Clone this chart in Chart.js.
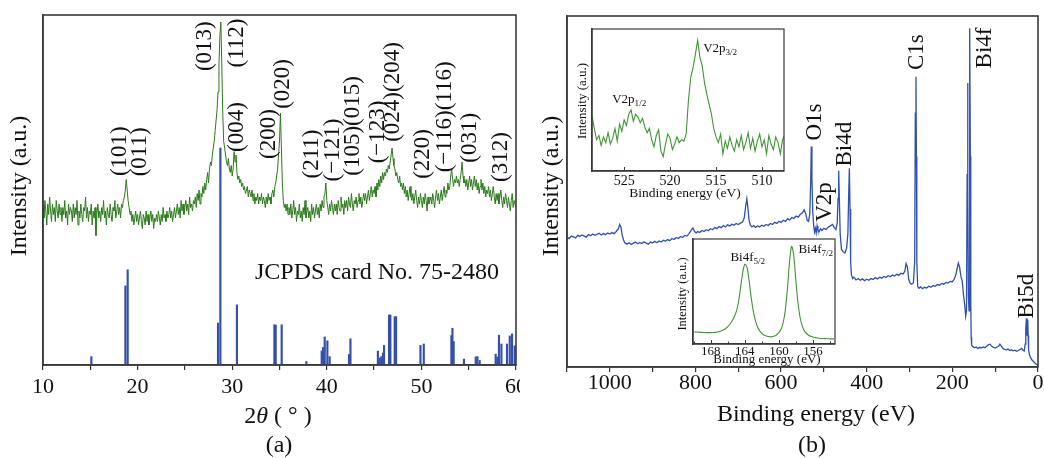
<!DOCTYPE html>
<html>
<head>
<meta charset="utf-8">
<script src="https://cdn.jsdelivr.net/npm/chart.js@4.4.0/dist/chart.umd.min.js"></script>
<style>
html, body { margin: 0; padding: 0; background: #fff; }
#wrap { position: relative; width: 1044px; height: 458px; overflow: hidden; }
canvas { position: absolute; }
</style>
</head>
<body>
<div id="wrap">
  <canvas id="xrd" width="520" height="458" style="left:0;top:0"></canvas>
  <canvas id="xps" width="524" height="458" style="left:520px;top:0"></canvas>
  <canvas id="v2p" width="220" height="175" style="left:570px;top:25px"></canvas>
  <canvas id="bi4f" width="166" height="133" style="left:675px;top:235px"></canvas>
</div>
<script>
// ---- (a) XRD pattern, 2theta from 10 to 60 in 0.1 steps
const xrdStart = 10, xrdStep = 0.1;
const xrdIntensity = [
  45,42,47,44,40,46,43,48,44,41,
  46,43,45,41,47,44,42,46,43,45,
  41,45,43,47,42,44,40,46,43,45,
  44,41,46,42,45,43,47,40,44,42,
  46,43,41,45,44,48,42,45,41,44,
  43,46,40,44,42,45,37,43,46,42,
  44,41,45,43,47,42,44,40,45,43,
  42,46,43,41,45,44,47,42,44,46,
  43,45,42,46,45,47,48,50,53,50,
  47,45,43,44,41,43,40,42,44,41,
  43,40,42,44,41,39,43,42,40,44,
  41,43,40,42,44,41,43,39,42,41,
  43,41,44,42,40,43,41,45,42,43,
  41,44,42,43,45,42,44,41,43,45,
  42,44,46,43,45,42,47,44,46,43,
  45,47,44,46,43,48,45,46,44,47,
  46,48,45,49,47,50,46,49,48,51,
  49,52,50,53,55,52,56,58,57,60,
  62,64,67,70,73,78,86,94,98,86,
  72,64,62,60,58,57,59,56,55,57,
  54,56,61,58,60,55,53,54,52,53,
  51,52,50,51,49,50,51,48,50,49,
  48,50,47,49,46,48,47,49,46,48,
  47,49,46,48,47,45,48,46,49,47,
  48,46,49,50,48,51,52,54,56,60,
  64,72,62,52,47,45,46,44,46,43,
  45,43,46,42,44,47,43,45,41,44,
  43,46,42,44,41,45,43,47,42,44,
  45,42,44,41,46,43,45,42,44,46,
  43,45,42,46,44,47,45,48,49,52,
  47,45,43,46,44,47,45,43,46,44,
  46,43,47,45,44,48,45,46,43,47,
  45,47,44,48,46,45,49,46,44,47,
  46,48,45,47,49,46,48,45,47,49,
  47,49,46,48,50,47,49,51,48,50,
  49,51,48,52,50,53,51,54,52,55,
  53,55,54,56,55,57,56,58,60,62,
  59,57,56,54,55,53,52,54,51,52,
  50,52,49,51,48,50,47,49,51,48,
  47,49,46,48,50,47,45,48,46,49,
  47,45,48,46,49,47,44,48,46,47,
  48,46,49,47,45,48,50,47,49,46,
  48,50,47,49,51,48,50,49,52,50,
  51,54,56,53,51,53,52,54,52,53,
  51,53,55,58,54,52,53,51,53,50,
  52,54,51,53,50,52,54,51,53,50,
  52,49,51,53,50,52,49,51,48,50,
  49,51,48,50,47,49,51,48,46,49,
  47,49,46,48,50,47,45,48,46,49,
  47,45,48,46,44,47,49,45,47,46,
  45
];

// JCPDS 75-2480 reference lines
const jcpdsAngle = [15.11, 18.71, 18.95, 28.5, 28.75, 30.5, 34.46, 34.6, 35.23, 37.84,
  39.46, 39.6, 39.78, 40.06, 40.3, 42.35, 42.5, 45.4, 45.6, 45.77, 45.94, 46.05,
  46.58, 46.72, 47.18, 47.32, 49.9, 50.25, 53.17, 53.28, 53.41, 54.5, 55.74, 55.92,
  56.16, 57.85, 58.03, 58.2, 58.46, 59.05, 59.34, 59.58, 59.86];
const jcpdsHeight = [2.4, 22.6, 27.2, 12, 62, 17.2, 11.5, 11.4, 11.5, 1,
  4, 5, 8, 6.9, 2.4, 3, 7.5, 4, 2, 2.4, 3.4, 5.6,
  14.3, 14.3, 13.8, 13.8, 5.6, 6, 8.4, 10.5, 6.7, 1.7, 2.3, 2.4,
  1.3, 3.1, 2.3, 8.5, 6, 6, 8.3, 8.9, 5.5];

const xrdPeakLabels = ["(101)", "(011)", "(013)", "(112)", "(004)", "(200)", "(020)", "(211)",
  "(\u2212121)", "(105)(015)", "(\u2212123)", "(024)(204)", "(220)", "(\u2212116)(116)", "(031)", "(312)"];

// ---- (b) XPS survey
const xpsEnergy = [
  1100,1095,1090,1085,1080,1075,1070,1065,1060,1055,1050,1045,1040,1035,1030,1025,1020,1015,1010,1005,1000,995,990,
  985,980,977,974,971,968,965,960,
  955,950,945,940,935,930,925,920,915,910,905,900,895,890,885,880,875,870,865,860,855,850,845,840,835,830,825,820,815,
  810,806,802,798,795,790,785,780,775,770,765,760,755,750,745,740,735,730,725,720,715,710,705,700,695,690,686,683,680,678,675,672,668,664,660,
  655,650,645,640,635,630,625,620,615,610,605,600,595,590,585,580,575,570,565,560,555,
  550,546,542,539,536,533,531,529.5,528,526,524,522,520,518,516,514,511,508,505,500,
  495,490,485,480,476,472,469,467,465.5,464,462,459,455,451,447,444,442,440.5,439,437.5,436,433,
  430,425,420,415,410,405,400,395,390,385,380,375,370,365,360,355,350,345,340,335,330,325,320,315,
  311,308,305,302,299,295,291,288,286.5,285,284,283,281,278,274,270,
  265,260,255,250,245,240,235,230,225,220,215,210,205,200,
  196,192,189,186,183,180,177,174,171,169,167,165.5,164.5,163.5,162.5,161,160,159,158,157,156,155,152,
  148,144,140,136,132,128,124,120,116,112,108,104,100,96,92,89,86,82,78,74,70,66,62,58,54,50,46,42,38,35,32,
  30,28.5,27,26,25,24,23,22,20,17,14,10,6,3,0
];
const xpsCounts = [
  37.0,36.6,37.3,37.1,36.8,37.5,37.2,37.6,37.3,37.0,37.7,37.4,37.9,37.5,37.8,38.1,37.6,38.0,37.7,38.2,37.9,38.3,38.0,
  38.6,39.4,40.6,39.8,37.5,36.2,35.4,35.0,
  35.4,34.9,35.3,35.6,35.1,35.5,35.2,35.7,35.3,35.0,35.6,35.3,35.8,35.4,35.9,35.6,36.1,35.8,36.3,36.0,36.6,36.3,36.9,36.6,37.2,36.9,37.5,37.3,38.0,
  39.0,39.6,38.6,38.2,38.6,38.3,38.9,38.6,39.1,38.8,39.4,39.1,39.7,39.4,40.0,39.7,40.3,39.9,40.5,40.2,40.7,40.4,40.9,40.6,41.0,41.3,42.5,45.5,47.9,46.0,42.0,40.5,39.9,40.3,39.8,
  40.2,39.9,40.4,40.1,40.6,40.3,40.9,40.6,41.2,40.9,41.5,41.2,41.8,41.5,42.2,41.9,42.6,42.3,43.0,42.7,43.5,
  43.9,44.8,43.5,41.8,41.5,43.5,52,62.8,54,44,40.5,38.5,39.5,38.2,40.2,39.0,38.6,39.4,38.9,39.5,
  39.2,39.8,40.2,40.6,39.8,39.2,41,48,55.9,48,38,33.5,32.8,32.5,33.8,38,50,56.6,45,30,26.5,25.2,
  25.6,24.8,25.2,24.7,25.1,24.6,25.0,24.7,25.2,24.9,25.4,25.1,25.6,25.3,25.8,25.5,26.0,25.7,26.2,25.9,26.4,26.1,26.7,26.5,
  27.3,29.5,28.5,25.0,24.0,23.6,24.0,30,72.3,82.7,60,30,23.0,22.4,22.8,22.3,
  22.7,22.5,23.0,22.7,23.2,23.0,23.5,23.3,23.8,23.6,24.1,23.9,24.4,24.3,
  25.0,26.2,28.0,29.6,28.4,25.8,24.5,20.5,17.5,14.5,16,55,80.9,50,20,16,45,96.5,60,18,8.5,6.2,5.8,
  5.5,5.7,5.3,5.6,5.4,5.7,5.5,5.9,6.3,6.5,5.9,5.6,5.4,5.7,5.9,6.5,6.0,5.3,5.0,4.9,5.1,4.7,4.9,4.6,4.8,4.5,4.7,5.0,5.3,4.8,4.6,
  6.5,11,13.9,9.5,9,13.5,9,5,3.5,2.6,2.0,1.5,1.0,0.7,0.5
];

// V2p high-resolution spectrum, 528.5 down to 507.5 eV in 0.25 eV steps
const v2pStart = 528.5, v2pStep = -0.25;
const v2pCounts = [
  39,
  30,22,25,18, 24,20,27,19, 23,30,21,33, 28,36,32,40, 43,35,40,38,
  34,37,31,27, 30,22,17,25, 29,14,10,19, 26,23,15,19, 24,20,22,21,
  26,50,66,73, 82,92,80,74, 62,54,47,40, 30,24,20,26, 12,21,16,24,
  18,14,22,17, 25,15,20,27, 16,23,14,21, 26,17,22,12, 25,19,15,24,
  20,12,22,26
];

// Bi4f high-resolution spectrum, 170 down to 153.5 eV in 0.25 eV steps
const bi4fStart = 170, bi4fStep = -0.25;
const bi4fCounts = [
  11.5,11.4,11.3,11.1,11.0,10.9,10.8,10.8,10.8,10.9,11.1,11.4,11.9,12.6,13.5,14.8,
  16.5,18.8,22,26,31,40,54,68,76,73,60,44,31,22,16,12.5,
  10,8.6,7.7,7.1,6.8,7.0,7.6,8.8,10.8,14,20,32,52,78,93,84,
  60,39,25,17,12.5,10,8.4,7.3,6.6,6.1,5.8,5.5,5.3,5.2,5.1,5.0,
  4.9,4.9,4.8
];

const SERIF = "'Liberation Serif', 'Times New Roman', serif";

function drawRich(ctx, parts, size, align) {
  let w = 0;
  const segs = parts.map(p => {
    const sz = p.sub ? size * 0.7 : size;
    ctx.font = (p.it ? "italic " : "") + sz + "px " + SERIF;
    const m = ctx.measureText(p.t).width;
    w += m;
    return { p, sz, m };
  });
  let x = align === "left" ? 0 : -w / 2;
  segs.forEach(s => {
    ctx.font = (s.p.it ? "italic " : "") + s.sz + "px " + SERIF;
    ctx.fillText(s.p.t, x, s.p.sub ? size * 0.3 : 0);
    x += s.m;
  });
}

// frame, inward ticks and text notes
function decor(cfg) {
  return {
    id: "decor",
    beforeDraw(chart) {
      if (!cfg.fill) return;
      const a = chart.chartArea, ctx = chart.ctx;
      ctx.save();
      ctx.fillStyle = cfg.fill;
      ctx.fillRect(a.left, a.top, a.right - a.left, a.bottom - a.top);
      ctx.restore();
    },
    afterDraw(chart) {
      const ctx = chart.ctx, a = chart.chartArea;
      const xs = chart.scales.x, ys = chart.scales.y;
      ctx.save();
      ctx.strokeStyle = "#3a3a3a";
      ctx.lineWidth = cfg.frame;
      ctx.strokeRect(a.left, a.top, a.right - a.left, a.bottom - a.top);
      if (cfg.innerTicks) {
        ctx.lineWidth = 1;
        xs.ticks.forEach(t => {
          const px = Math.round(xs.getPixelForValue(t.value)) + 0.5;
          ctx.beginPath();
          ctx.moveTo(px, a.bottom);
          ctx.lineTo(px, a.bottom - (t.label ? 4 : 2.5));
          ctx.stroke();
        });
      }
      ctx.fillStyle = "#111";
      ctx.textBaseline = "middle";
      cfg.notes.forEach(n => {
        const px = n.x !== undefined ? xs.getPixelForValue(n.x) : n.px;
        const py = n.y !== undefined ? ys.getPixelForValue(n.y) : n.py;
        ctx.save();
        ctx.translate(px, py);
        if (n.rot) ctx.rotate(-Math.PI / 2);
        drawRich(ctx, n.parts || [{ t: n.text }], n.size, n.align);
        ctx.restore();
      });
      ctx.restore();
    }
  };
}

function xScale(min, max, step, every, size, height, pad, reverse, ticksOut) {
  return {
    type: "linear", min, max, reverse, offset: false,
    grid: { display: true, offset: false, drawOnChartArea: false, drawTicks: ticksOut,
      tickLength: 5, color: "#333", lineWidth: 1.2 },
    border: { display: true, color: "#3a3a3a", width: 1.5 },
    ticks: { stepSize: step, includeBounds: false, autoSkip: false, maxRotation: 0, padding: pad,
      color: "#111", font: { family: SERIF, size, lineHeight: 1 },
      callback: v => (Math.abs(v % every) < 1e-6 ? String(v) : "") },
    afterFit: s => { s.height = height; s.paddingLeft = 0; s.paddingRight = 0; }
  };
}

function yScale(width) {
  return {
    type: "linear", min: 0, max: 100,
    grid: { display: false },
    border: { display: true, color: "#3a3a3a", width: 1.5 },
    ticks: { display: false },
    afterFit: s => { s.width = width; s.paddingTop = 0; s.paddingBottom = 0; }
  };
}

const base = {
  responsive: false, animation: false, devicePixelRatio: 1, events: [],
  plugins: { legend: { display: false }, tooltip: { enabled: false } }
};

// ---- panel (a)
const xrdPoints = xrdIntensity.map((v, i) => ({ x: xrdStart + i * xrdStep, y: v }));
const jcpdsPoints = jcpdsAngle.map((a, i) => ({ x: a, y: jcpdsHeight[i] }));
const xrdLabelPos = [[18.11, 61.1], [20.23, 60.9], [27.09, 91.1], [30.47, 92], [30.47, 68], [33.86, 66],
  [35.34, 80.3], [38.4, 60.3], [40.62, 61.4], [42.74, 68.3], [45.38, 66.6], [46.97, 78], [50.14, 60.3],
  [52.46, 70.9], [55.1, 64.9], [58.38, 59.4]];

new Chart(document.getElementById("xrd"), {
  type: "line",
  data: {
    datasets: [
      { type: "bar", data: jcpdsPoints, backgroundColor: "#3450aa", barThickness: 1.5, order: 0 },
      { type: "line", data: xrdPoints, borderColor: "#2c7a1c", borderWidth: 1, pointRadius: 0, tension: 0, order: 1 }
    ]
  },
  options: {
    ...base,
    layout: { padding: { left: 0, right: 4, top: 15, bottom: 0 } },
    scales: { x: xScale(10, 60, 5, 10, 22, 93, 6, false, true), y: yScale(43) }
  },
  plugins: [decor({
    frame: 1.6,
    notes: [
      ...xrdPeakLabels.map((t, i) => ({ text: t, x: xrdLabelPos[i][0], y: xrdLabelPos[i][1], rot: true, size: 23 })),
      { text: "JCPDS card No. 75-2480", px: 377, py: 273, size: 24 },
      { text: "Intensity (a.u.)", px: 20, py: 186, rot: true, size: 24 },
      { parts: [{ t: "2" }, { t: "\u03b8", it: true }, { t: " ( \u00b0 )" }], px: 278, py: 417, size: 24 },
      { text: "(a)", px: 279, py: 446, size: 24 }
    ]
  })]
});

// ---- panel (b)
const xpsPoints = xpsEnergy.map((e, i) => ({ x: e, y: xpsCounts[i] }));
const xpsLabels = ["O1s", "V2p", "Bi4d", "C1s", "Bi4f", "Bi5d"];
const xpsLabelPos = [[520.8, 69.8], [497.4, 47], [450.7, 63.5], [282.6, 89.7], [123.8, 90.9], [25.7, 20.2]];

new Chart(document.getElementById("xps"), {
  type: "line",
  data: {
    datasets: [
      { data: xpsPoints, borderColor: "#3050ad", borderWidth: 1.3, pointRadius: 0, tension: 0 }
    ]
  },
  options: {
    ...base,
    layout: { padding: { left: 0, right: 6, top: 16, bottom: 0 } },
    scales: { x: xScale(0, 1100, 100, 200, 22, 91, 0, true, true), y: yScale(47) }
  },
  plugins: [decor({
    frame: 1.6,
    notes: [
      ...xpsLabels.map((t, i) => ({ text: t, x: xpsLabelPos[i][0], y: xpsLabelPos[i][1], rot: true, size: 23 })),
      { text: "Intensity (a.u.)", px: 32, py: 186, rot: true, size: 24 },
      { text: "Binding energy (eV)", px: 296, py: 415, size: 24 },
      { text: "(b)", px: 292, py: 446, size: 24 }
    ]
  })]
});

// ---- inset V2p
new Chart(document.getElementById("v2p"), {
  type: "line",
  data: {
    datasets: [{
      data: v2pCounts.map((v, i) => ({ x: v2pStart + i * v2pStep, y: v })),
      borderColor: "#3f9634", borderWidth: 1.1, pointRadius: 0, tension: 0
    }]
  },
  options: {
    ...base,
    layout: { padding: { left: 0, right: 6, top: 4, bottom: 0 } },
    scales: { x: xScale(507.6, 528.5, 5, 5, 14, 29, 3, true, false), y: yScale(22) }
  },
  plugins: [decor({
    frame: 1.2, innerTicks: true, fill: "#fff",
    notes: [
      { parts: [{ t: "V2p" }, { t: "3/2", sub: true }], x: 516.4, y: 86, align: "left", size: 13 },
      { parts: [{ t: "V2p" }, { t: "1/2", sub: true }], x: 526.3, y: 50, align: "left", size: 13 },
      { text: "Intensity (a.u.)", px: 13, py: 76, rot: true, size: 13 },
      { text: "Binding energy (eV)", px: 115, py: 168, size: 13.5 }
    ]
  })]
});

// ---- inset Bi4f
new Chart(document.getElementById("bi4f"), {
  type: "line",
  data: {
    datasets: [{
      data: bi4fCounts.map((v, i) => ({ x: bi4fStart + i * bi4fStep, y: v })),
      borderColor: "#3f9634", borderWidth: 1.1, pointRadius: 0, tension: 0.3
    }]
  },
  options: {
    ...base,
    layout: { padding: { left: 0, right: 6, top: 4, bottom: 0 } },
    scales: { x: xScale(153.4, 170.1, 2, 4, 13, 24, 1.5, true, false), y: yScale(18) }
  },
  plugins: [decor({
    frame: 1.2, innerTicks: true, fill: "#fff",
    notes: [
      { parts: [{ t: "Bi4f" }, { t: "5/2", sub: true }], x: 165.7, y: 82, align: "left", size: 13 },
      { parts: [{ t: "Bi4f" }, { t: "7/2", sub: true }], x: 157.7, y: 89.5, align: "left", size: 13 },
      { text: "Intensity (a.u.)", px: 8, py: 59, rot: true, size: 12.5 },
      { text: "Binding energy (eV)", px: 92, py: 125, size: 13 }
    ]
  })]
});
</script>
</body>
</html>
